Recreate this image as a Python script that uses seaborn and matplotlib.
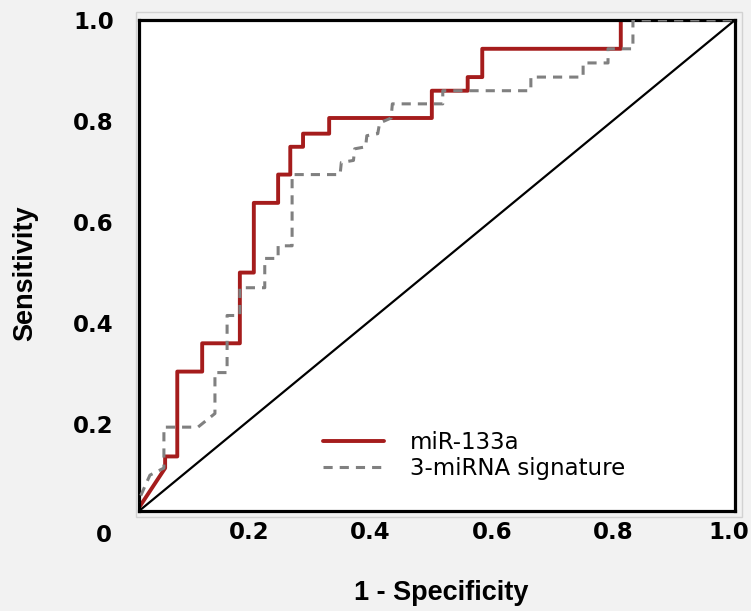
import matplotlib

matplotlib.use('Agg')
import matplotlib.pyplot as plt
from matplotlib.patches import Rectangle
from matplotlib.transforms import ScaledTranslation

import pandas as pd
import seaborn as sns

# ROC points (1 - specificity, sensitivity)
mir133a_fpr = [0.0, 0.062, 0.062, 0.082, 0.082, 0.123, 0.123, 0.185, 0.185, 0.208,
               0.208, 0.248, 0.248, 0.268, 0.268, 0.289, 0.289, 0.332, 0.332, 0.501,
               0.501, 0.560, 0.560, 0.584, 0.584, 0.812, 0.812, 1.0]
mir133a_tpr = [0.0, 0.113, 0.136, 0.136, 0.304, 0.304, 0.360, 0.360, 0.500, 0.500,
               0.638, 0.638, 0.694, 0.694, 0.749, 0.749, 0.775, 0.775, 0.806, 0.806,
               0.860, 0.860, 0.887, 0.887, 0.943, 0.943, 1.0, 1.0]

signature_fpr = [0.0, 0.037, 0.060, 0.060, 0.116, 0.144, 0.144, 0.164, 0.164, 0.185,
                 0.185, 0.226, 0.226, 0.248, 0.248, 0.271, 0.271, 0.350, 0.352, 0.372,
                 0.374, 0.392, 0.394, 0.412, 0.415, 0.434, 0.436, 0.519, 0.519, 0.664,
                 0.664, 0.750, 0.750, 0.791, 0.791, 0.832, 0.832, 1.0]
signature_tpr = [0.0, 0.099, 0.113, 0.194, 0.194, 0.221, 0.302, 0.302, 0.415, 0.415,
                 0.470, 0.470, 0.528, 0.528, 0.553, 0.553, 0.694, 0.694, 0.718, 0.722,
                 0.745, 0.749, 0.771, 0.775, 0.796, 0.806, 0.834, 0.834, 0.860, 0.860,
                 0.887, 0.887, 0.915, 0.915, 0.943, 0.943, 1.0, 1.0]

tick_values = [0.2, 0.4, 0.6, 0.8, 1.0]
tick_labels = ['0.2', '0.4', '0.6', '0.8', '1.0']

sns.set_style('white')
plt.rcParams['font.family'] = ['DejaVu Sans']
plt.rcParams['text.color'] = 'black'
plt.rcParams['axes.labelcolor'] = 'black'
plt.rcParams['xtick.color'] = 'black'
plt.rcParams['ytick.color'] = 'black'

red = '#a51c1c'
grey = '#808080'

fig = plt.figure(figsize=(7.51, 6.11), dpi=100)
fig.patch.set_facecolor('#f2f2f2')

# axes box in pixels: left 139, right 735, top 20, bottom 511
W, H = 751., 611.
ax = fig.add_axes([139 / W, 1 - 511 / H, (735 - 139) / W, (511 - 20) / H])
ax.set_facecolor('white')

# faint outer border of the plot area
fig.patches.append(Rectangle((136 / W, 1 - 517 / H), (742 - 136) / W, (517 - 12) / H,
                             transform=fig.transFigure, fill=False,
                             edgecolor='#d2d2d2', linewidth=1, zorder=0))

red_df = pd.DataFrame({'fpr': mir133a_fpr, 'tpr': mir133a_tpr})
grey_df = pd.DataFrame({'fpr': signature_fpr, 'tpr': signature_tpr})

# chance line corner to corner
ax.plot([0, 1], [0, 1], transform=ax.transAxes, color='black', linewidth=1.6, zorder=1)

sns.lineplot(data=red_df, x='fpr', y='tpr', sort=False, estimator=None, ax=ax,
             color=red, linewidth=2.8, label='miR-133a', zorder=2)
sns.lineplot(data=grey_df, x='fpr', y='tpr', sort=False, estimator=None, ax=ax,
             color=grey, linewidth=2.2, linestyle=(0, (3, 2.3)),
             label='3-miRNA signature', zorder=3)

ax.set_xlim(0.019, 1.0)
ax.set_ylim(0.028, 1.0)

ax.set_xticks(tick_values)
ax.set_xticklabels(tick_labels)
ax.set_yticks(tick_values)
ax.set_yticklabels(tick_labels)
ax.tick_params(axis='both', length=0, labelsize=16.5, colors='black')
ax.tick_params(axis='x', pad=7)
ax.tick_params(axis='y', pad=18)
for lab in ax.get_xticklabels() + ax.get_yticklabels():
    lab.set_fontweight('bold')

# last x label sits a little left so it stays inside the image
last = ax.get_xticklabels()[-1]
last.set_transform(last.get_transform() + ScaledTranslation(-6 / 100, 0, fig.dpi_scale_trans))

# shared origin label
fig.text(104 / W, 1 - 536 / H, '0', ha='center', va='center',
         fontsize=16.5, fontweight='bold')

for sp in ax.spines.values():
    sp.set_visible(True)
    sp.set_color('black')
    sp.set_linewidth(2.3)

ax.set_xlabel('1 - Specificity', fontsize=19.5, fontweight='bold',
              family=['Liberation Sans', 'DejaVu Sans'])
ax.set_ylabel('Sensitivity', fontsize=19.5, fontweight='bold',
              family=['Liberation Sans', 'DejaVu Sans'])
ax.xaxis.set_label_coords(0.507, -0.1405)
ax.yaxis.set_label_coords(-0.169, 0.485)

leg = ax.legend(loc='lower left', bbox_to_anchor=(0.308, 0.063), frameon=False,
                fontsize=16.5, handlelength=2.7, handletextpad=1.1,
                labelspacing=0.15, borderpad=0, borderaxespad=0)
for t in leg.get_texts():
    t.set_color('black')

fig.savefig('out.png', dpi=100, facecolor=fig.get_facecolor())
